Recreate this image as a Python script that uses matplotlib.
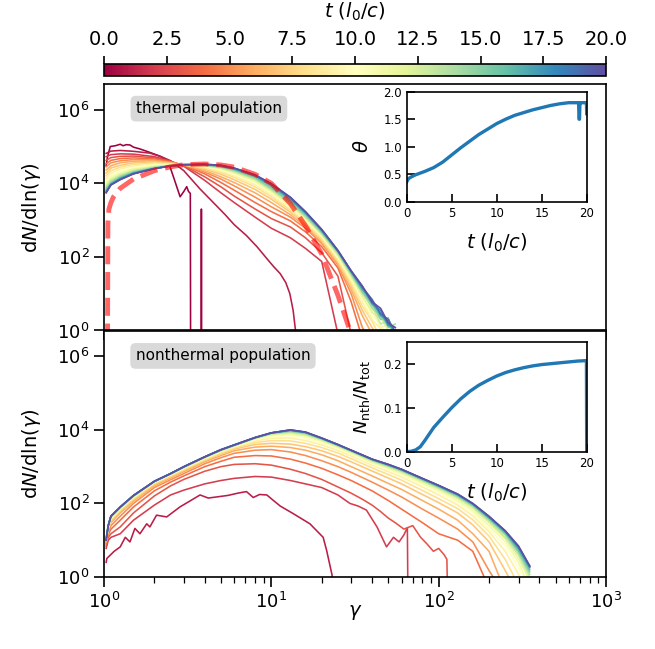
import numpy as np
import matplotlib
matplotlib.use("Agg")
import matplotlib.pyplot as plt
from matplotlib import colors, ticker

N = np.nan

# ---------------- data ----------------
times = list(range(21))
cbar_ticks = [0, 2.5, 5, 7.5, 10, 12.5, 15, 17.5, 20]

# thermal population
th_t0_gamma = [1.03, 1.05, 1.09, 1.17, 1.25, 1.3, 1.36, 1.43, 1.5, 1.65, 1.88, 2.15, 2.42, 2.6, 2.85,
               3.0, 3.12, 3.2, 3.28, 3.3, 3.80, 3.82, 3.84]
th_t0_val = [3e4, 5.3e4, 1e5, 1.05e5, 1.15e5, 1.05e5, 1.12e5, 1.1e5, 9.6e4, 8.5e4, 6.9e4, 5.5e4, 3.9e4,
             1.5e4, 4.3e3, 6e3, 8.1e3, 6e3, 5.3e3, 1e-3, 1e-3, 2e3, 1e-3]
th_t1_gamma = [1.03, 1.1, 1.25, 1.5, 1.88, 2.2, 2.5, 3.0, 3.75, 4.5, 5.3, 6.0, 7.1, 8.2, 9.4, 10.3,
               11.3, 12.2, 12.9, 13.5, 14.2]
th_t1_val = [6.5e4, 7.5e4, 7.8e4, 7.4e4, 6.6e4, 5.3e4, 4.1e4, 2.2e4, 7e3, 3e3, 1.4e3, 750, 380, 190, 90,
             55, 35, 20, 10, 3.5, 0.5]
th_gamma = [1.03, 1.1, 1.25, 1.5, 2, 2.5, 3, 4, 5, 6, 8, 10, 13, 16, 20, 25, 30, 35, 40, 45, 50, 55]
th_val = [  # t = 2 ... 20
    [5.3e4, 6.0e4, 6.3e4, 6.2e4, 5.3e4, 4.0e4, 2.9e4, 1.2e4, 5.5e3, 3.0e3, 1.2e3, 600, 330, 170, 75, 0.8, N, N, N, N, N, N],
    [4.2e4, 5.0e4, 5.4e4, 5.5e4, 4.9e4, 3.9e4, 3.0e4, 1.5e4, 8.0e3, 4.5e3, 2.0e3, 1.1e3, 650, 330, 130, 30, 0.8, N, N, N, N, N],
    [3.4e4, 4.2e4, 4.7e4, 4.9e4, 4.6e4, 3.8e4, 3.1e4, 1.8e4, 1.05e4, 6.5e3, 3.0e3, 1.7e3, 950, 480, 190, 50, 6, 0.6, N, N, N, N],
    [2.8e4, 3.6e4, 4.1e4, 4.4e4, 4.3e4, 3.7e4, 3.2e4, 2.0e4, 1.3e4, 8.5e3, 4.2e3, 2.3e3, 1.2e3, 600, 230, 60, 10, 1.2, 0.5, N, N, N],
    [2.3e4, 3.0e4, 3.6e4, 4.0e4, 4.05e4, 3.6e4, 3.2e4, 2.2e4, 1.5e4, 1.05e4, 5.5e3, 3.0e3, 1.4e3, 680, 250, 65, 13, 2.5, 0.8, N, N, N],
    [1.9e4, 2.6e4, 3.1e4, 3.6e4, 3.8e4, 3.5e4, 3.2e4, 2.4e4, 1.75e4, 1.25e4, 6.8e3, 3.7e3, 1.65e3, 760, 280, 70, 16, 3.5, 1.2, 0.5, N, N],
    [1.6e4, 2.2e4, 2.75e4, 3.25e4, 3.55e4, 3.4e4, 3.2e4, 2.6e4, 1.95e4, 1.45e4, 8.0e3, 4.3e3, 1.85e3, 840, 310, 80, 19, 4.5, 1.8, 0.6, N, N],
    [1.35e4, 1.9e4, 2.45e4, 2.95e4, 3.35e4, 3.3e4, 3.2e4, 2.75e4, 2.15e4, 1.6e4, 9.2e3, 4.9e3, 2.05e3, 920, 340, 88, 22, 6, 2, 1.1, 0.5, N],
    [1.15e4, 1.65e4, 2.2e4, 2.7e4, 3.15e4, 3.2e4, 3.2e4, 2.85e4, 2.3e4, 1.75e4, 1.03e4, 5.4e3, 2.25e3, 1.0e3, 370, 95, 25, 7, 2.5, 1.5, 0.6, N],
    [1.0e4, 1.45e4, 1.95e4, 2.5e4, 3.0e4, 3.15e4, 3.2e4, 2.95e4, 2.45e4, 1.9e4, 1.12e4, 5.9e3, 2.45e3, 1.08e3, 390, 105, 27, 8, 3.5, 1.2, 1.5, 0.5],
    [9.0e3, 1.3e4, 1.78e4, 2.35e4, 2.85e4, 3.1e4, 3.2e4, 3.0e4, 2.55e4, 2.0e4, 1.2e4, 6.3e3, 2.6e3, 1.15e3, 410, 112, 30, 9, 3, 2.2, 1, 0.5],
    [8.2e3, 1.2e4, 1.65e4, 2.2e4, 2.75e4, 3.05e4, 3.2e4, 3.05e4, 2.65e4, 2.1e4, 1.28e4, 6.7e3, 2.8e3, 1.22e3, 430, 120, 32, 10, 4.5, 1.5, 1.8, 0.6],
    [7.5e3, 1.1e4, 1.55e4, 2.1e4, 2.68e4, 3.0e4, 3.2e4, 3.1e4, 2.75e4, 2.2e4, 1.35e4, 7.1e3, 3.0e3, 1.3e3, 450, 128, 34, 12, 4, 2.5, 1.2, 1.5],
    [7.0e3, 1.03e4, 1.47e4, 2.0e4, 2.62e4, 3.0e4, 3.2e4, 3.15e4, 2.85e4, 2.3e4, 1.42e4, 7.5e3, 3.2e3, 1.38e3, 470, 135, 36, 11, 5.5, 2, 2.2, 0.7],
    [6.5e3, 9.8e3, 1.4e4, 1.93e4, 2.57e4, 2.98e4, 3.2e4, 3.2e4, 2.92e4, 2.4e4, 1.52e4, 8.3e3, 3.5e3, 1.5e3, 500, 140, 38, 14, 5, 3, 1.3, 1],
    [6.1e3, 9.4e3, 1.35e4, 1.88e4, 2.54e4, 2.97e4, 3.2e4, 3.22e4, 2.97e4, 2.47e4, 1.58e4, 8.8e3, 3.7e3, 1.57e3, 520, 143, 40, 13, 6.5, 2.5, 1.8, 0.8],
    [5.8e3, 9.2e3, 1.3e4, 1.84e4, 2.52e4, 2.96e4, 3.2e4, 3.25e4, 3.02e4, 2.53e4, 1.63e4, 9.3e3, 3.95e3, 1.63e3, 540, 146, 41, 16, 5.5, 3.5, 1.4, 1.2],
    [5.6e3, 9.1e3, 1.27e4, 1.82e4, 2.51e4, 2.95e4, 3.2e4, 3.28e4, 3.06e4, 2.57e4, 1.67e4, 9.6e3, 4.1e3, 1.67e3, 550, 148, 41, 15, 7, 2.8, 2, 0.9],
    [5.5e3, 9.0e3, 1.25e4, 1.8e4, 2.5e4, 2.95e4, 3.2e4, 3.3e4, 3.1e4, 2.6e4, 1.7e4, 9.8e3, 4.2e3, 1.7e3, 560, 150, 42, 16, 6, 4, 1.6, 1.2],
]
mj_gamma = [1.05, 1.055, 1.07, 1.1, 1.14, 1.25, 1.5, 2, 2.5, 3, 4, 5, 6, 8, 10, 13, 16, 20, 25, 30]
mj_val = [0.5, 800, 2e3, 3e3, 4.3e3, 7.3e3, 1.3e4, 2.2e4, 2.8e4, 3.2e4, 3.35e4, 3.15e4, 2.75e4, 1.75e4,
          1e4, 2.8e3, 700, 120, 9, 0.8]

# nonthermal population
nth_t1_gamma = [1.03, 1.04, 1.15, 1.25, 1.34, 1.43, 1.53, 1.64, 1.8, 1.88, 2.06, 2.37, 2.85, 3.3, 3.75,
                4.2, 4.7, 5.5, 6.3, 7.1, 7.8, 8.5, 9.4, 10.3, 11.3, 13.5, 17, 20.4, 21.4, 23, 24]
nth_t1_val = [2.5, 3.2, 5, 6.6, 12, 9, 21, 15, 28, 23, 48, 43, 81, 120, 170, 140, 150, 165, 190, 210,
              145, 175, 170, 120, 85, 53, 28, 12, 5.3, 1.2, 0.4]
nth_t2_gamma = [1.03, 1.06, 1.1, 1.25, 1.5, 2, 2.5, 3, 4, 5, 6, 8, 10, 13, 16, 20, 25, 29.5, 33, 37,
                42.8, 48.8, 53.7, 58, 62, 65, 65.5]
nth_t2_val = [6, 10, 12, 15, 35, 90, 170, 230, 340, 420, 480, 540, 520, 420, 340, 270, 170, 100, 85, 66,
              23, 6.6, 12, 9, 14, 22, 0.3]
nth_t3_gamma = [1.03, 1.06, 1.1, 1.25, 1.5, 2, 2.5, 3, 4, 5, 6, 8, 10, 13, 16, 20, 25, 30, 35, 40, 45,
                50, 55, 62, 70, 78, 85, 93, 100, 108, 112, 113]
nth_t3_val = [7, 12, 15, 23, 55, 160, 300, 450, 750, 1e3, 1.15e3, 1.2e3, 1.1e3, 850, 650, 450, 280, 190,
              130, 90, 60, 40, 30, 20, 25, 12, 8, 5, 6, 4, 3, 0.3]
nth_gamma = [1.03, 1.06, 1.1, 1.25, 1.5, 2, 2.5, 3, 4, 5, 6, 8, 10, 13, 16, 20, 25, 30, 40, 50, 60, 80,
             100, 130, 160, 200, 250, 300, 350]
nth_val = [  # t = 4 ... 20
    [8, 14, 20, 35, 80, 220, 380, 560, 1.0e3, 1.4e3, 1.8e3, 2.0e3, 1.95e3, 1.6e3, 1.25e3, 900, 600, 420, 220, 120, 70, 30, 15, 10, 5, 0.5, N, N, N],
    [9, 16, 25, 45, 100, 270, 440, 650, 1.2e3, 1.75e3, 2.3e3, 2.8e3, 2.9e3, 2.5e3, 2.0e3, 1.45e3, 1.0e3, 700, 380, 230, 150, 70, 40, 20, 9, 1.5, 0.3, N, N],
    [9, 18, 30, 55, 115, 300, 490, 730, 1.35e3, 2.0e3, 2.7e3, 3.4e3, 3.6e3, 3.3e3, 2.8e3, 2.1e3, 1.45e3, 1.0e3, 560, 350, 240, 120, 70, 35, 15, 5, 0.4, N, N],
    [10, 20, 33, 62, 125, 330, 530, 790, 1.45e3, 2.2e3, 3.0e3, 4.0e3, 4.3e3, 4.1e3, 3.5e3, 2.7e3, 1.9e3, 1.35e3, 760, 490, 340, 175, 105, 55, 26, 9, 1.5, 0.3, N],
    [10, 21, 36, 66, 135, 350, 560, 840, 1.55e3, 2.35e3, 3.2e3, 4.5e3, 5.1e3, 5.0e3, 4.3e3, 3.3e3, 2.35e3, 1.65e3, 930, 610, 430, 225, 135, 72, 36, 13, 3, 0.6, N],
    [10, 22, 38, 70, 142, 365, 585, 880, 1.62e3, 2.5e3, 3.4e3, 5.0e3, 5.9e3, 6.0e3, 5.1e3, 3.9e3, 2.75e3, 1.95e3, 1.1e3, 730, 520, 280, 170, 90, 46, 17, 5, 1.2, 0.3],
    [10, 23, 40, 73, 148, 375, 600, 910, 1.68e3, 2.6e3, 3.55e3, 5.4e3, 6.6e3, 6.9e3, 5.9e3, 4.4e3, 3.05e3, 2.15e3, 1.2e3, 820, 590, 320, 200, 105, 55, 21, 7, 1.8, 0.4],
    [10, 24, 42, 75, 152, 382, 615, 930, 1.72e3, 2.68e3, 3.65e3, 5.7e3, 7.1e3, 7.6e3, 6.6e3, 4.9e3, 3.35e3, 2.35e3, 1.3e3, 900, 650, 355, 225, 120, 63, 25, 9, 2.5, 0.5],
    [11, 24, 43, 76, 155, 388, 625, 950, 1.75e3, 2.72e3, 3.7e3, 5.85e3, 7.5e3, 8.2e3, 7.1e3, 5.2e3, 3.5e3, 2.5e3, 1.38e3, 960, 700, 385, 245, 135, 72, 30, 11, 3.2, 0.8],
    [11, 24, 43, 77, 157, 392, 630, 960, 1.78e3, 2.76e3, 3.74e3, 5.95e3, 7.8e3, 8.6e3, 7.5e3, 5.4e3, 3.65e3, 2.58e3, 1.44e3, 1.0e3, 740, 410, 260, 145, 80, 33, 12, 4, 1],
    [11, 24, 44, 78, 159, 395, 635, 970, 1.8e3, 2.8e3, 3.78e3, 6.03e3, 8.0e3, 9.0e3, 7.9e3, 5.6e3, 3.75e3, 2.64e3, 1.49e3, 1.04e3, 770, 430, 272, 153, 85, 36, 14, 4.5, 1.2],
    [11, 25, 44, 79, 161, 397, 640, 980, 1.82e3, 2.83e3, 3.82e3, 6.08e3, 8.1e3, 9.3e3, 8.2e3, 5.7e3, 3.83e3, 2.7e3, 1.53e3, 1.08e3, 795, 445, 283, 160, 89, 38, 15, 5, 1.4],
    [11, 25, 45, 79, 162, 398, 643, 985, 1.83e3, 2.85e3, 3.85e3, 6.12e3, 8.2e3, 9.6e3, 8.4e3, 5.8e3, 3.88e3, 2.74e3, 1.56e3, 1.1e3, 815, 458, 292, 166, 93, 40, 16, 5.5, 1.6],
    [11, 25, 45, 80, 163, 399, 646, 990, 1.84e3, 2.87e3, 3.87e3, 6.15e3, 8.25e3, 9.75e3, 8.5e3, 5.9e3, 3.93e3, 2.76e3, 1.58e3, 1.12e3, 830, 467, 300, 172, 96, 42, 17, 6, 1.8],
    [10, 25, 45, 80, 164, 400, 648, 995, 1.85e3, 2.88e3, 3.88e3, 6.18e3, 8.28e3, 9.85e3, 8.6e3, 5.95e3, 3.96e3, 2.78e3, 1.59e3, 1.14e3, 840, 473, 305, 176, 98, 43, 17.5, 6.5, 1.9],
    [10, 25, 45, 80, 165, 400, 650, 998, 1.85e3, 2.89e3, 3.89e3, 6.19e3, 8.29e3, 9.95e3, 8.7e3, 5.98e3, 3.98e3, 2.79e3, 1.6e3, 1.15e3, 845, 477, 308, 178, 99, 44, 18, 6.8, 2],
    [10, 25, 45, 80, 165, 400, 650, 1.0e3, 1.85e3, 2.9e3, 3.9e3, 6.2e3, 8.3e3, 1.0e4, 8.7e3, 6.0e3, 4.0e3, 2.8e3, 1.6e3, 1.15e3, 850, 480, 310, 180, 100, 45, 18, 7, 2],
]

# insets
theta_t = [0, 0.2, 0.5, 1, 2, 3, 4, 5, 6, 7, 8, 9, 10, 11, 12, 13, 14, 15, 16, 17, 18, 19, 19.1,
           19.15, 19.2, 19.25, 19.3, 19.5, 19.9, 19.97, 20]
theta_val = [0.36, 0.42, 0.45, 0.49, 0.55, 0.62, 0.72, 0.85, 0.98, 1.1, 1.22, 1.32, 1.42, 1.5, 1.57,
             1.62, 1.67, 1.71, 1.75, 1.78, 1.8, 1.8, 1.8, 1.5, 1.5, 1.8, 1.8, 1.8, 1.8, 1.8, 1.6]
frac_t = [0, 0.5, 1, 1.5, 2, 2.5, 3, 4, 5, 6, 7, 8, 9, 10, 11, 12, 13, 14, 15, 16, 17, 18, 19, 19.97, 20]
frac_val = [0, 0.001, 0.004, 0.011, 0.025, 0.04, 0.055, 0.078, 0.1, 0.12, 0.137, 0.151, 0.162, 0.172,
            0.18, 0.186, 0.191, 0.195, 0.198, 0.2, 0.202, 0.204, 0.206, 0.207, 0.0]

# ---------------- figure ----------------
fig = plt.figure(figsize=(6.55, 6.49), dpi=100)
L, W = 104 / 655, 502 / 655
ax_top = fig.add_axes([L, 0.4908, W, 0.3798])
ax_bot = fig.add_axes([L, 0.1109, W, 0.3798], sharex=ax_top)
cax = fig.add_axes([L, 0.8829, W, 0.0185])

cmap = plt.get_cmap("Spectral")
norm = colors.Normalize(0, 20)
lw = 1.15


def col(t):
    return cmap(norm(t))


# thermal
ax_top.plot(th_t0_gamma, th_t0_val, color=col(times[0]), lw=lw)
ax_top.plot(th_t1_gamma, th_t1_val, color=col(times[1]), lw=lw)
for t, row in zip(times[2:], th_val):
    ax_top.plot(th_gamma, np.array(row, dtype=float), color=col(t), lw=lw)
ax_top.plot(mj_gamma, mj_val, ls="--", color="red", alpha=0.6, lw=3.5)

# nonthermal
ax_bot.plot(nth_t1_gamma, nth_t1_val, color=col(times[1]), lw=lw)
ax_bot.plot(nth_t2_gamma, nth_t2_val, color=col(times[2]), lw=lw)
ax_bot.plot(nth_t3_gamma, nth_t3_val, color=col(times[3]), lw=lw)
for t, row in zip(times[4:], nth_val):
    ax_bot.plot(nth_gamma, np.array(row, dtype=float), color=col(t), lw=lw)

for ax in (ax_top, ax_bot):
    ax.set_xscale("log")
    ax.set_yscale("log")
    ax.set_xlim(1, 1e3)
    ax.set_ylim(1, 5e6)
    ax.yaxis.set_major_locator(ticker.FixedLocator([1, 1e2, 1e4, 1e6]))
    ax.yaxis.set_minor_locator(ticker.NullLocator())
    ax.tick_params(which="major", labelsize=13, length=7, width=1.2)
    ax.tick_params(which="minor", length=4, width=0.9)
    for s in ax.spines.values():
        s.set_linewidth(1.2)
    ax.set_ylabel(r"$\mathrm{d}N/\mathrm{d}\ln(\gamma)$", fontsize=14, labelpad=10)
plt.setp(ax_top.get_xticklabels(), visible=False)
ax_bot.set_xlabel(r"$\gamma$", fontsize=14, labelpad=-6)

box = dict(boxstyle="round,pad=0.35", fc="#d9d9d9", ec="none")
ax_top.text(0.209, 0.90, "thermal population", transform=ax_top.transAxes, fontsize=11,
            ha="center", va="center", bbox=box)
ax_bot.text(0.237, 0.897, "nonthermal population", transform=ax_bot.transAxes, fontsize=11,
            ha="center", va="center", bbox=box)

# colorbar
sm = plt.cm.ScalarMappable(norm=norm, cmap=cmap)
cb = fig.colorbar(sm, cax=cax, orientation="horizontal")
cax.xaxis.set_ticks_position("top")
cax.xaxis.set_label_position("top")
cb.set_ticks(cbar_ticks)
cb.ax.xaxis.set_major_formatter(ticker.FormatStrFormatter("%.1f"))
cb.set_label(r"$t\ (l_0/c)$", fontsize=14, labelpad=9)
cax.tick_params(labelsize=14, length=6, width=1.2, pad=5)
cb.outline.set_linewidth(1.2)

# insets
iw, ih = 180 / 655, 110 / 649
ins1 = fig.add_axes([406.7 / 655, (649 - 201.7) / 649, iw, ih])
ins2 = fig.add_axes([406.7 / 655, (649 - 451.7) / 649, iw, ih])
ins1.plot(theta_t, theta_val, color="#1f77b4", lw=2.4)
ins2.plot(frac_t, frac_val, color="#1f77b4", lw=2.4)
ins1.set_ylim(0, 2.0)
ins1.set_yticks([0, 0.5, 1.0, 1.5, 2.0])
ins2.set_ylim(0, 0.25)
ins2.set_yticks([0, 0.1, 0.2])
for ax in (ins1, ins2):
    ax.set_xlim(0, 20)
    ax.set_xticks([0, 5, 10, 15, 20])
    ax.tick_params(direction="in", labelsize=8.5, length=6, width=1.2)
    for s in ax.spines.values():
        s.set_linewidth(1.2)
    ax.set_xlabel(r"$t\ (l_0/c)$", fontsize=14, labelpad=9)
ins1.set_ylabel(r"$\theta$", fontsize=14, labelpad=8)
ins2.set_ylabel(r"$N_{\rm nth}/N_{\rm tot}$", fontsize=13, labelpad=8)

fig.savefig("out.png", dpi=100)
